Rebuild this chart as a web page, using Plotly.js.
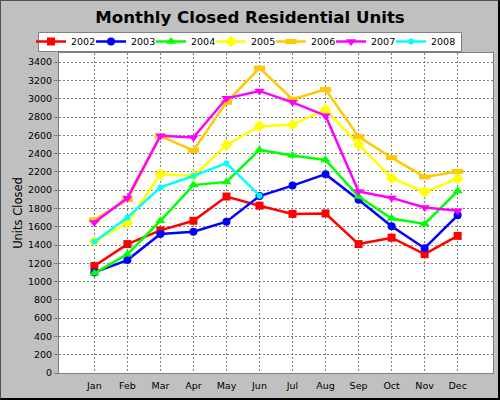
<!DOCTYPE html>
<html>
<head>
<meta charset="utf-8">
<script src="https://cdn.plot.ly/plotly-3.0.1.min.js"></script>
<style>
  html, body { margin: 0; padding: 0; background: #c0c0c0; }
  #wrap { position: relative; width: 500px; height: 400px; }
  #chart { width: 500px; height: 400px; }
  #frame { position: absolute; left: 0; top: 0; width: 500px; height: 400px; box-sizing: border-box;
           border-top: 1px solid #505050; border-left: 1px solid #505050;
           border-right: 2px solid #000; border-bottom: 2px solid #000; pointer-events: none; }
</style>
</head>
<body>
<div id="wrap"><div id="chart"></div><div id="frame"></div></div>
<script>
const months = ['Jan','Feb','Mar','Apr','May','Jun','Jul','Aug','Sep','Oct','Nov','Dec'];
const seriesNames = ['2002','2003','2004','2005','2006','2007','2008'];
const s2002 = [1170, 1410, 1560, 1665, 1930, 1830, 1740, 1745, 1410, 1480, 1300, 1500];
const s2003 = [1100, 1235, 1520, 1545, 1655, 1935, 2050, 2175, 1895, 1605, 1365, 1725];
const s2004 = [1090, 1300, 1665, 2055, 2090, 2440, 2380, 2330, 1930, 1690, 1630, 1990];
const s2005 = [1440, 1640, 2175, 2155, 2495, 2700, 2715, 2880, 2500, 2130, 1980, 2125];
const s2006 = [1675, 1895, 2590, 2435, 2960, 3335, 2995, 3100, 2585, 2355, 2145, 2205];
const s2007 = [1645, 1915, 2595, 2575, 3005, 3085, 2960, 2815, 1985, 1915, 1810, 1775];
const s2008 = [1435, 1700, 2030, 2155, 2295, 1940];
const yTicks = [0,200,400,600,800,1000,1200,1400,1600,1800,2000,2200,2400,2600,2800,3000,3200,3400];

const values = [s2002, s2003, s2004, s2005, s2006, s2007, s2008];
const colors = ['#ff0000','#0000ff','#00ff00','#ffff00','#ffc800','#ff00ff','#00ffff'];
const symbols = ['square','circle','triangle-up','diamond','line-ew','triangle-down','circle'];
const sizes = [8, 8, 9, 9, 8, 9, 6];

const traces = values.map((v, i) => {
  const isLine = symbols[i] === 'line-ew';
  return {
    type: 'scatter',
    mode: 'lines+markers',
    name: seriesNames[i],
    x: months.slice(0, v.length),
    y: v,
    line: { color: colors[i], width: 2.5 },
    marker: {
      color: colors[i], symbol: symbols[i], size: sizes[i],
      line: { width: isLine ? 5 : 0, color: colors[i] }
    },
    legendwidth: i === values.length - 1 ? 40 : 15,
    cliponaxis: false
  };
});

// plot area in pixels: left 59, right 493, top 53, bottom 373
const PL = 59, PR = 493, PT = 53, PB = 373;
const px2x = p => (p - PL) / (PR - PL);
const px2y = p => (PB - p) / (PB - PT);

const font = 'DejaVu Sans, sans-serif';
const layout = {
  width: 500, height: 400,
  paper_bgcolor: '#c0c0c0',
  plot_bgcolor: '#ffffff',
  margin: { l: PL, r: 500 - PR, t: PT, b: 400 - PB, autoexpand: false },
  title: {
    text: 'Monthly Closed Residential Units',
    font: { family: font, size: 16.6, weight: 'bold', color: '#000' },
    xref: 'container', x: 0.5, xanchor: 'center',
    yref: 'container', y: 1 - 17/400, yanchor: 'middle'
  },
  showlegend: true,
  legend: {
    orientation: 'h',
    xref: 'paper', x: px2x(31), xanchor: 'left',
    yref: 'paper', y: px2y(41.5), yanchor: 'middle',
    bgcolor: 'rgba(0,0,0,0)', borderwidth: 0,
    font: { family: font, size: 9.5, color: '#000' },
    entrywidth: 15, entrywidthmode: 'pixels',
    traceorder: 'normal'
  },
  shapes: [{
    type: 'rect', xref: 'paper', yref: 'paper', layer: 'below',
    x0: px2x(38.5), x1: px2x(461.5), y0: px2y(51.5), y1: px2y(32.5),
    fillcolor: '#ffffff', line: { color: '#808080', width: 1 }
  }],
  xaxis: {
    type: 'category',
    categoryorder: 'array', categoryarray: months,
    range: [-1.07, 12.07],
    showgrid: true, gridcolor: '#808080', griddash: '2px,2px', gridwidth: 1,
    showline: true, linecolor: '#808080', linewidth: 1, mirror: true,
    ticks: '', ticklabelstandoff: 4,
    tickfont: { family: font, size: 9.5, color: '#000' },
    zeroline: false, fixedrange: true
  },
  yaxis: {
    range: [0, 3500],
    tickvals: yTicks,
    ticktext: yTicks.map(String),
    showgrid: true, gridcolor: '#808080', griddash: '2px,2px', gridwidth: 1,
    showline: true, linecolor: '#808080', linewidth: 1, mirror: true,
    ticks: 'outside', ticklen: 4, tickcolor: '#808080',
    tickfont: { family: font, size: 9.5, color: '#000' },
    zeroline: false,
    title: { text: 'Units Closed', font: { family: font, size: 11.5, color: '#000' }, standoff: 2 },
    fixedrange: true
  }
};

Plotly.newPlot('chart', traces, layout, { staticPlot: true, displayModeBar: false });
</script>
</body>
</html>
